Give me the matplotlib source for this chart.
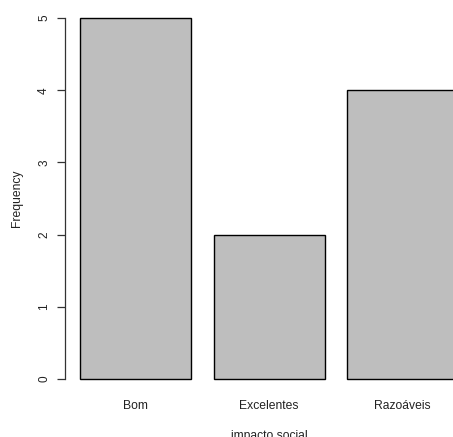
import matplotlib.pyplot as plt

# dados do barplot (tabela de frequencias)
categorias = ["Bom", "Excelentes", "Razoáveis"]
frequencias = [5, 2, 4]

plt.rcParams['font.family'] = ['Liberation Sans', 'DejaVu Sans']

W, H = 453, 437
fig = plt.figure(figsize=(W / 100, H / 100), dpi=100)

# estilo barplot do R: width=1, space=0.2, eixos com extensao de 4%
largura, espaco = 1.0, 0.2
esq = [espaco + i * (largura + espaco) for i in range(len(categorias))]
centros = [e + largura / 2 for e in esq]
xmin, xmax = esq[0], esq[-1] + largura
dx = 0.04 * (xmax - xmin)
ymax = max(frequencias)
dy = 0.04 * ymax

# plot region em pixels (a direita sai da figura, como no original cortado)
px_left, px_right = 64.9, 473.4
px_top, px_bottom = 3.6, 393.4
ax = fig.add_axes([px_left / W, 1 - px_bottom / H,
                   (px_right - px_left) / W, (px_bottom - px_top) / H])

ax.bar(esq, frequencias, width=largura, align='edge',
       color='#bebebe', edgecolor='black', linewidth=1.0)

ax.set_xlim(xmin - dx, xmax + dx)
ax.set_ylim(-dy, ymax + dy)

for s in ['top', 'right', 'bottom']:
    ax.spines[s].set_visible(False)
ax.spines['left'].set_bounds(0, ymax)
ax.spines['left'].set_color('#333333')
ax.spines['left'].set_linewidth(0.9)

ax.set_yticks(range(0, ymax + 1))
ax.tick_params(axis='y', length=6, width=0.9, color='#333333', pad=4.7,
               labelsize=8.5, labelcolor='#222222')
for lab in ax.get_yticklabels():
    lab.set_rotation(90)
    lab.set_va('center')

ax.set_xticks(centros)
ax.set_xticklabels(categorias)
ax.tick_params(axis='x', length=0, pad=5, labelsize=8.7, labelcolor='#222222')

ax.set_xlabel("impacto social", fontsize=8.7, color='#222222', labelpad=13)
ax.set_ylabel("Frequency", fontsize=8.7, color='#222222', labelpad=11)

fig.savefig("out.png", dpi=100)
